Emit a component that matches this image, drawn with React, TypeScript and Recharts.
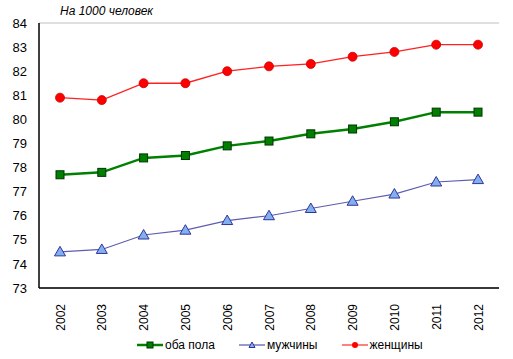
import React from 'react'
import { LineChart, Line, XAxis, YAxis, CartesianGrid } from 'recharts'

const years = ['2002', '2003', '2004', '2005', '2006', '2007', '2008', '2009', '2010', '2011', '2012']
const both = [77.7, 77.8, 78.4, 78.5, 78.9, 79.1, 79.4, 79.6, 79.9, 80.3, 80.3]
const men = [74.5, 74.6, 75.2, 75.4, 75.8, 76.0, 76.3, 76.6, 76.9, 77.4, 77.5]
const women = [80.9, 80.8, 81.5, 81.5, 82.0, 82.2, 82.3, 82.6, 82.8, 83.1, 83.1]
const yTicks = [73, 74, 75, 76, 77, 78, 79, 80, 81, 82, 83, 84]

const data = years.map((year, i) => ({ year, both: both[i], men: men[i], women: women[i] }))

const FONT = 'Liberation Sans, Arial, sans-serif'
const PAD = { left: 21, right: 21 }

const SquareDot = (props: any) => {
  const { cx, cy, index } = props
  if (cx == null || cy == null) return <g key={index} />
  return <rect key={index} x={cx - 4} y={cy - 4} width={8} height={8} fill="#008000" stroke="#003300" strokeWidth={1} />
}

const TriDot = (props: any) => {
  const { cx, cy, index } = props
  if (cx == null || cy == null) return <g key={index} />
  return (
    <polygon
      key={index}
      points={`${cx},${cy - 5.5} ${cx - 5.5},${cy + 4} ${cx + 5.5},${cy + 4}`}
      fill="#80b0f0"
      stroke="#33339a"
      strokeWidth={1}
    />
  )
}

const CircleDot = (props: any) => {
  const { cx, cy, index } = props
  if (cx == null || cy == null) return <g key={index} />
  return <circle key={index} cx={cx} cy={cy} r={4.5} fill="#ff0000" stroke="#cc0000" strokeWidth={0.8} />
}

const YearTick = ({ x, y, payload }: any) => (
  <text
    x={x}
    y={y + 8}
    dy={4.5}
    transform={`rotate(-90 ${x} ${y + 8})`}
    textAnchor="end"
    fontSize={12}
    fontFamily={FONT}
    fill="#000"
  >
    {payload.value}
  </text>
)

const LegendItem = ({ color, width, marker, label, last }: any) => (
  <div style={{ display: 'flex', alignItems: 'center', marginRight: last ? 0 : 24 }}>
    <svg width={26} height={10}>
      <line x1={0} y1={5} x2={26} y2={5} stroke={color} strokeWidth={width} />
      {marker}
    </svg>
    <span style={{ marginLeft: 2 }}>{label}</span>
  </div>
)

export default function App() {
  return (
    <div style={{ position: 'absolute', left: 0, top: 0, width: 513, height: 359, background: '#fff' }}>
      <div
        style={{
          position: 'absolute',
          left: 60,
          top: 4,
          fontFamily: FONT,
          fontStyle: 'italic',
          fontSize: 12,
          color: '#000',
        }}
      >
        На 1000 человек
      </div>
      <LineChart width={513} height={359} data={data} margin={{ top: 23, right: 14, left: 0, bottom: 31 }}>
        <CartesianGrid horizontal vertical={false} stroke="#c0c0c0" strokeWidth={1} />
        <XAxis
          dataKey="year"
          xAxisId="main"
          height={40}
          padding={PAD}
          axisLine={{ stroke: '#000', strokeWidth: 1.5 }}
          tickLine={false}
          tick={<YearTick />}
          interval={0}
        />
        <XAxis
          dataKey="year"
          xAxisId="top"
          orientation="top"
          height={0}
          padding={PAD}
          axisLine={{ stroke: '#808080', strokeWidth: 1 }}
          tickLine={false}
          tick={false}
        />
        <YAxis
          yAxisId="main"
          domain={[73, 84]}
          ticks={yTicks}
          width={39}
          axisLine={{ stroke: '#000', strokeWidth: 1.5 }}
          tickLine={false}
          tick={{ fill: '#000', fontSize: 13, fontFamily: FONT }}
          tickMargin={6}
        />
        <YAxis
          yAxisId="right"
          orientation="right"
          domain={[73, 84]}
          width={0}
          axisLine={{ stroke: '#808080', strokeWidth: 1 }}
          tickLine={false}
          tick={false}
        />
        <Line
          xAxisId="main"
          yAxisId="main"
          dataKey="men"
          stroke="#5c5cb0"
          strokeWidth={1.2}
          dot={<TriDot />}
          isAnimationActive={false}
        />
        <Line
          xAxisId="main"
          yAxisId="main"
          dataKey="both"
          stroke="#008000"
          strokeWidth={2.5}
          dot={<SquareDot />}
          isAnimationActive={false}
        />
        <Line
          xAxisId="main"
          yAxisId="main"
          dataKey="women"
          stroke="#ff2020"
          strokeWidth={1.3}
          dot={<CircleDot />}
          isAnimationActive={false}
        />
      </LineChart>
      <div
        style={{
          position: 'absolute',
          left: 137,
          top: 338,
          display: 'flex',
          fontFamily: FONT,
          fontSize: 12,
          color: '#000',
        }}
      >
        <LegendItem
          color="#008000"
          width={2.5}
          marker={<rect x={10} y={2} width={6} height={6} fill="#008000" stroke="#003300" />}
          label="оба пола"
        />
        <LegendItem
          color="#33339a"
          width={1}
          marker={<polygon points="13,2 10,7.5 16,7.5" fill="#80b0f0" stroke="#33339a" />}
          label="мужчины"
        />
        <LegendItem
          color="#ff0000"
          width={1}
          marker={<circle cx={13} cy={5} r={3} fill="#ff0000" />}
          label="женщины"
          last
        />
      </div>
    </div>
  )
}
